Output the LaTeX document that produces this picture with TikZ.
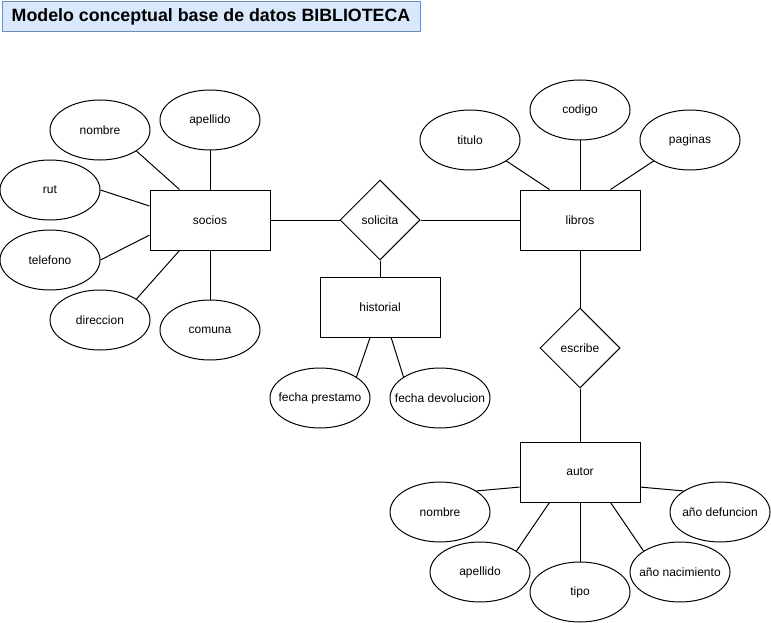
\documentclass[tikz,border=0pt]{standalone}
\usepackage{fontspec}
\setmainfont{Liberation Sans}
\usetikzlibrary{shapes.geometric}
\definecolor{titlefill}{HTML}{DAE8FC}
\definecolor{titleline}{HTML}{6C8EBF}

\begin{document}
\begin{tikzpicture}[x=1pt,y=-1pt,line width=1pt,
  every node/.style={font=\fontsize{12}{14}\selectfont},
  entity/.style={draw,rectangle,minimum width=120pt,minimum height=60pt,inner sep=0pt},
  attr/.style={draw,ellipse,minimum width=100pt,minimum height=60pt,inner sep=0pt},
  rel/.style={draw,diamond,aspect=1,minimum width=80pt,minimum height=80pt,inner sep=0pt}]
\path[use as bounding box] (0,0) rectangle (771,623);

\node[draw=titleline,fill=titlefill,minimum width=418pt,minimum height=30pt,inner sep=0pt,font=\bfseries\fontsize{17.8}{21}\selectfont] (encabezado) at (211,17) {Modelo conceptual base de datos BIBLIOTECA};

\node[entity] (socios) at (210,220) {socios};
\node[entity] (libros) at (580,220) {libros};
\node[entity] (historial) at (380,307) {historial};
\node[entity] (autor) at (580,472) {autor};
\node[rel] (solicita) at (380,220) {solicita};
\node[rel] (escribe) at (580,348) {escribe};

\foreach \n/\x/\y/\t in {snombre/100/130/nombre, sapellido/210/120/apellido, srut/50/190/rut,
  stelefono/50/260/telefono, sdireccion/100/320/direccion, scomuna/210/330/comuna,
  ltitulo/470/140/titulo, lcodigo/580/110/codigo, lpaginas/690/140/paginas,
  hprestamo/320/398/fecha prestamo, hdevolucion/440/398/fecha devolucion,
  anombre/440/512/nombre, aapellido/480/572/apellido, atipo/580/592/tipo,
  anacimiento/680/572/año nacimiento, adefuncion/720/512/año defuncion}{
  \node[attr] (\n) at (\x,\y) {\makebox[0pt]{\t}};
}

\foreach \a/\b in {snombre.-30/socios.135, sapellido.south/socios.north, srut.east/socios.167,
  stelefono.east/socios.194, sdireccion.30/socios.225, scomuna.north/socios.south,
  socios.east/solicita.west, solicita.east/libros.west, solicita.south/historial.north,
  hprestamo.30/historial.252, hdevolucion.150/historial.290,
  ltitulo.-30/libros.135, lcodigo.south/libros.north, lpaginas.210/libros.45,
  libros.south/escribe.north, escribe.south/autor.north,
  anombre.30/autor.194, aapellido.30/autor.225, atipo.north/autor.south,
  anacimiento.150/autor.315, adefuncion.150/autor.346}{
  \draw (\a) -- (\b);
}
\end{tikzpicture}
\end{document}
